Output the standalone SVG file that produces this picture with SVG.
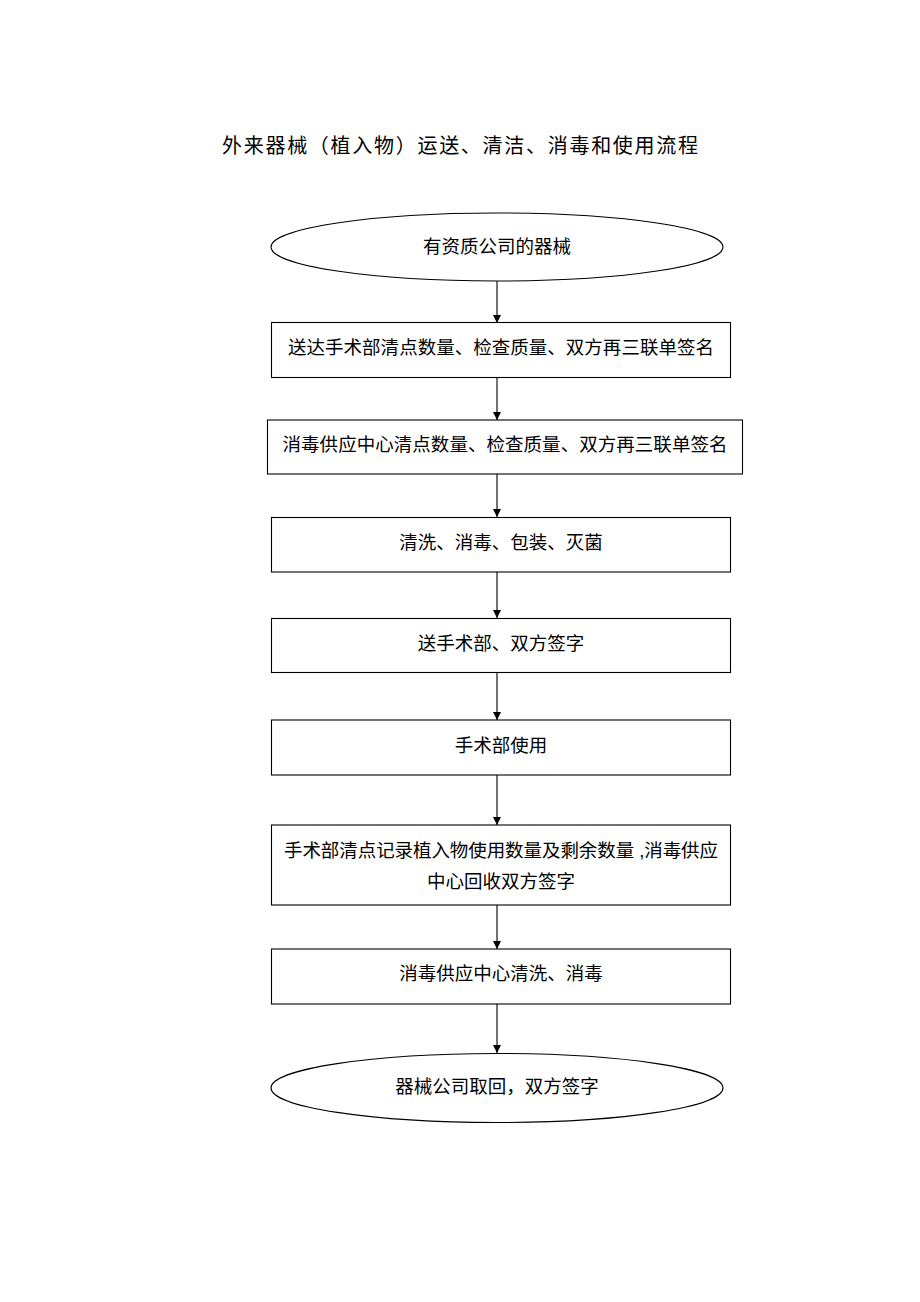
<svg xmlns="http://www.w3.org/2000/svg" width="920" height="1302" viewBox="0 0 920 1302">
<style>
.n{fill:#fff;stroke:#000;stroke-width:1.1}
.t{font-family:"Liberation Sans","Noto Sans CJK SC",sans-serif;font-size:18.5px;fill:#000;text-anchor:middle;dominant-baseline:central}
.c{stroke:#000;stroke-width:1.1;fill:none;marker-end:url(#ah)}
</style>
<defs>
<marker id="ah" markerUnits="userSpaceOnUse" markerWidth="8" markerHeight="10" refX="8" refY="4" orient="auto">
<path d="M0,0 L8,4 L0,8 Z" fill="#000"/>
</marker>
</defs>
<rect width="920" height="1302" fill="#fff"/>
<text class="t" x="460" y="146" style="font-size:20px" textLength="476" lengthAdjust="spacing">外来器械（植入物）运送、清洁、消毒和使用流程</text>
<g id="connectors">
<line class="c" x1="497" y1="281" x2="497" y2="323"/>
<line class="c" x1="497" y1="378" x2="497" y2="420"/>
<line class="c" x1="497" y1="474" x2="497" y2="517"/>
<line class="c" x1="497" y1="572" x2="497" y2="618"/>
<line class="c" x1="497" y1="672" x2="497" y2="720"/>
<line class="c" x1="497" y1="775" x2="497" y2="825"/>
<line class="c" x1="497" y1="903" x2="497" y2="949"/>
<line class="c" x1="497" y1="1004" x2="497" y2="1053"/>
</g>
<g id="start">
<ellipse class="n" cx="497" cy="247" rx="226" ry="34"/>
<text class="t" x="497" y="246">有资质公司的器械</text>
</g>
<g id="step1">
<rect class="n" x="271.5" y="322.5" width="459" height="55"/>
<text class="t" x="501" y="347" textLength="426" lengthAdjust="spacing">送达手术部清点数量、检查质量、双方再三联单签名</text>
</g>
<g id="step2">
<rect class="n" x="267.5" y="420" width="475" height="54"/>
<text class="t" x="505" y="444" textLength="445" lengthAdjust="spacing">消毒供应中心清点数量、检查质量、双方再三联单签名</text>
</g>
<g id="step3">
<rect class="n" x="271.5" y="517.5" width="459" height="54.5"/>
<text class="t" x="501" y="542">清洗、消毒、包装、灭菌</text>
</g>
<g id="step4">
<rect class="n" x="271.5" y="618.5" width="459" height="54"/>
<text class="t" x="501" y="643">送手术部、双方签字</text>
</g>
<g id="step5">
<rect class="n" x="271.5" y="720" width="459" height="55"/>
<text class="t" x="501" y="745">手术部使用</text>
</g>
<g id="step6">
<rect class="n" x="271.5" y="825" width="459" height="80"/>
<text class="t" x="501" y="850" textLength="434" lengthAdjust="spacing">手术部清点记录植入物使用数量及剩余数量 ,消毒供应</text>
<text class="t" x="501" y="881">中心回收双方签字</text>
</g>
<g id="step7">
<rect class="n" x="271.5" y="949" width="459" height="55"/>
<text class="t" x="501" y="973">消毒供应中心清洗、消毒</text>
</g>
<g id="end">
<ellipse class="n" cx="497" cy="1088" rx="226" ry="34.5"/>
<text class="t" x="497" y="1086">器械公司取回，双方签字</text>
</g>
</svg>
